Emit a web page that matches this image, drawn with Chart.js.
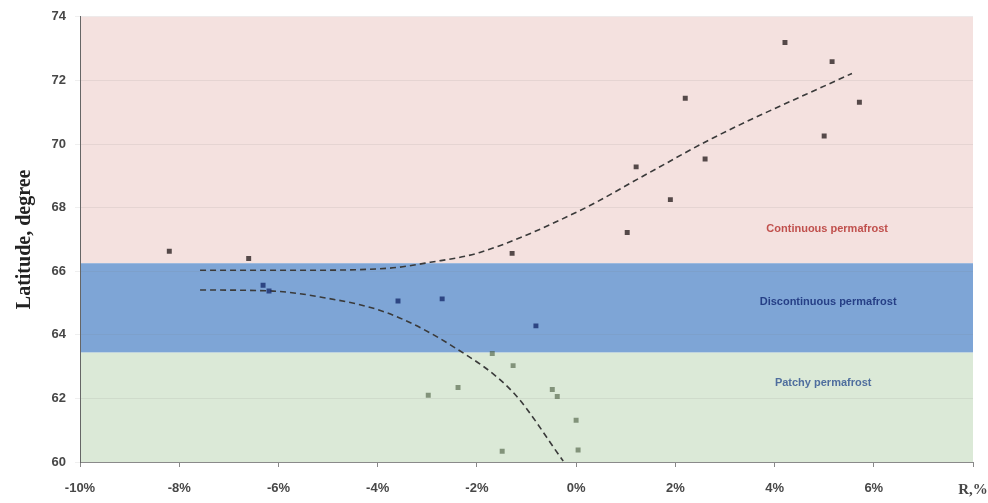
<!DOCTYPE html>
<html><head><meta charset="utf-8">
<script src="https://cdn.jsdelivr.net/npm/chart.js@4/dist/chart.umd.min.js"></script>
<style>html,body{margin:0;padding:0;background:#fff}canvas{display:block}</style>
</head><body>
<canvas id="c" width="988" height="503"></canvas>
<script>
// Observations: R (%) vs latitude (degree)
const obsR   = [-8.2, -6.6, -6.31, -6.19, -3.59, -2.70, -1.29, -0.81, -1.69, -1.27, -2.98, -2.38, -0.48, -0.38, 0.0, -1.49, 0.04, 1.03, 1.21, 1.90, 2.20, 2.60, 4.21, 5.16, 5.71, 5.00];
const obsLat = [66.63, 66.4, 65.56, 65.38, 65.06, 65.13, 66.56, 64.28, 63.41, 63.03, 62.10, 62.34, 62.28, 62.06, 61.31, 60.34, 60.38, 67.22, 69.28, 68.25, 71.44, 69.53, 73.19, 72.59, 71.31, 70.25];

// Dashed trend curves
const upperTrendR   = [-7.58, -5.56, -3.81, -2.94, -1.94, 0.08, 1.43, 2.76, 5.56];
const upperTrendLat = [66.03, 66.03, 66.09, 66.28, 66.59, 67.91, 69.06, 70.19, 72.22];
const lowerTrendR   = [-7.58, -6.17, -5.16, -3.81, -2.48, -1.27, -0.26];
const lowerTrendLat = [65.41, 65.38, 65.19, 64.69, 63.63, 62.19, 60.03];

// Axes
const xTickValues = [-10, -8, -6, -4, -2, 0, 2, 4, 6, 8];
const xTickLabels = ['-10%', '-8%', '-6%', '-4%', '-2%', '0%', '2%', '4%', '6%', 'R,%'];
const yTickValues = [60, 62, 64, 66, 68, 70, 72, 74];

// Permafrost zones
const zoneNames = ['Continuous permafrost', 'Discontinuous permafrost', 'Patchy permafrost'];
const zoneLower = [66.25, 63.44, 60];
const zoneUpper = [74, 66.25, 63.44];
const zoneLabelR = [5.06, 5.08, 4.98];
const zoneLabelLat = [67.34, 65.03, 62.5];
const zoneFill = ['#f4e1df', '#7ea5d6', '#dbe9d7'];
const zoneText = ['#c0504d', '#263f86', '#4f6e9e'];

const zonesPlugin = {
  id: 'zones',
  beforeDraw(chart) {
    const {ctx, chartArea: a, scales: {x, y}} = chart;
    ctx.save();
    for (let i = 0; i < zoneNames.length; i++) {
      const t = y.getPixelForValue(zoneUpper[i]);
      const b = y.getPixelForValue(zoneLower[i]);
      ctx.fillStyle = zoneFill[i];
      ctx.fillRect(a.left, t, a.right - a.left, b - t);
    }
    ctx.restore();
  },
  beforeDatasetsDraw(chart) {
    const {ctx, scales: {x, y}} = chart;
    ctx.save();
    ctx.font = 'bold 11px "Liberation Sans", Arial, sans-serif';
    ctx.textAlign = 'center';
    ctx.textBaseline = 'middle';
    for (let i = 0; i < zoneNames.length; i++) {
      ctx.fillStyle = zoneText[i];
      ctx.fillText(zoneNames[i], x.getPixelForValue(zoneLabelR[i]), y.getPixelForValue(zoneLabelLat[i]));
    }
    ctx.restore();
  }
};

function pointColor(ctx) {
  const v = ctx.raw ? ctx.raw.y : 70;
  if (v < zoneUpper[2]) return 'rgba(70,90,60,0.6)';
  if (v < zoneUpper[1]) return 'rgba(25,45,110,0.8)';
  return 'rgba(45,35,35,0.8)';
}

const pts = obsR.map((r, i) => ({x: r, y: obsLat[i]}));
const up = upperTrendR.map((r, i) => ({x: r, y: upperTrendLat[i]}));
const lo = lowerTrendR.map((r, i) => ({x: r, y: lowerTrendLat[i]}));

const sansBold = {family: '"Liberation Sans", Arial, sans-serif', size: 13, weight: 'bold'};
const serifBold = {family: '"Liberation Serif", "Times New Roman", serif', size: 15, weight: 'bold'};

new Chart(document.getElementById('c'), {
  type: 'scatter',
  data: {
    datasets: [
      {data: up, showLine: true, borderColor: '#3a3a3a', borderWidth: 1.6, borderDash: [6, 4], pointRadius: 0, tension: 0.4, cubicInterpolationMode: 'monotone', order: 2},
      {data: lo, showLine: true, borderColor: '#3a3a3a', borderWidth: 1.6, borderDash: [6, 4], pointRadius: 0, tension: 0.4, cubicInterpolationMode: 'monotone', order: 2},
      {data: pts, pointStyle: 'rect', pointRadius: 3.5, borderWidth: 0, backgroundColor: pointColor, order: 1}
    ]
  },
  options: {
    responsive: false,
    animation: false,
    layout: {padding: {top: 15, right: 0, left: 0, bottom: 0}},
    plugins: {legend: {display: false}, tooltip: {enabled: false}},
    scales: {
      x: {
        type: 'linear', min: -10, max: 8,
        afterBuildTicks(s) { s.ticks = xTickValues.map(v => ({value: v})); },
        afterFit(s) { s.height = 41; s.paddingRight = 15; s.paddingLeft = 0; },
        ticks: {
          callback: (v) => xTickLabels[xTickValues.indexOf(v)],
          font: (c) => (c.tick && c.tick.value === 8) ? serifBold : sansBold,
          color: '#474747', padding: 14, maxRotation: 0, autoSkip: false
        },
        grid: {drawOnChartArea: false, tickLength: 5, color: '#888'},
        border: {color: '#8a8a8a', width: 1}
      },
      y: {
        type: 'linear', min: 60, max: 74,
        afterBuildTicks(s) { s.ticks = yTickValues.map(v => ({value: v})); },
        afterFit(s) { s.width = 80; },
        ticks: {font: sansBold, color: '#474747', padding: 9},
        grid: {color: 'rgba(120,120,120,0.12)', tickLength: 5},
        border: {color: '#666', width: 1},
        title: {
          display: true, text: 'Latitude, degree', color: '#222',
          font: {family: '"Liberation Serif", "Times New Roman", serif', size: 20, weight: 'bold'},
          padding: {top: 13, bottom: 0}
        }
      }
    }
  },
  plugins: [zonesPlugin]
});
</script>
</body></html>
